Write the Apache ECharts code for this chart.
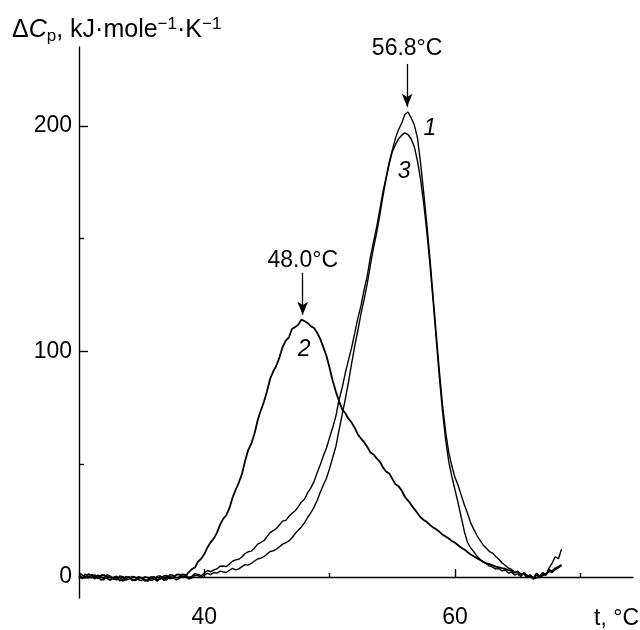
<!DOCTYPE html>
<html>
<head>
<meta charset="utf-8">
<script src="https://cdn.jsdelivr.net/npm/echarts@6/dist/echarts.min.js"></script>
<style>html,body{margin:0;padding:0;background:#fff}#c{width:640px;height:630px}</style>
</head>
<body>
<div id="c"></div>
<script>
// Temperature grid (°C)
const temps = [
  30.00,30.25,30.50,30.75,31.00,31.25,31.50,31.75,32.00,32.25,32.50,32.75,33.00,33.25,33.50,33.75,
  34.00,34.25,34.50,34.75,35.00,35.25,35.50,35.75,36.00,36.25,36.50,36.75,37.00,37.25,37.50,37.75,
  38.00,38.25,38.50,38.75,39.00,39.25,39.50,39.75,40.00,40.25,40.50,40.75,41.00,41.25,41.50,41.75,
  42.00,42.25,42.50,42.75,43.00,43.25,43.50,43.75,44.00,44.25,44.50,44.75,45.00,45.25,45.50,45.75,
  46.00,46.25,46.50,46.75,47.00,47.25,47.50,47.75,48.00,48.25,48.50,48.75,49.00,49.25,49.50,49.75,
  50.00,50.25,50.50,50.75,51.00,51.25,51.50,51.75,52.00,52.25,52.50,52.75,53.00,53.25,53.50,53.75,
  54.00,54.25,54.50,54.75,55.00,55.25,55.50,55.75,56.00,56.25,56.50,56.75,57.00,57.25,57.50,57.75,
  58.00,58.25,58.50,58.75,59.00,59.25,59.50,59.75,60.00,60.25,60.50,60.75,61.00,61.25,61.50,61.75,
  62.00,62.25,62.50,62.75,63.00,63.25,63.50,63.75,64.00,64.25,64.50,64.75,65.00,65.25,65.50,65.75,
  66.00,66.25,66.50,66.75,67.00,67.25,67.50,67.75,68.00,68.25,68.50];

// Curve 1 (peak ~56.8 °C), kJ/(mol·K)
const curve1 = [
  1.0,-0.2,-0.5,1.4,0.6,-0.9,0.9,0.1,-0.8,1.1,0.4,-0.6,-1.3,0.5,0.2,-1.4,
  -0.9,0.3,-0.1,-1.2,-1.6,0.2,-0.3,-1.5,-1.1,0.4,0.5,-0.9,-0.6,1.0,0.8,-0.4,
  0.1,1.3,1.0,-0.2,0.3,1.5,1.2,0.6,1.8,2.9,2.4,3.1,3.6,4.8,4.9,4.6,
  5.8,7.0,7.6,7.9,8.9,10.4,11.2,11.5,12.8,14.6,15.3,16.1,17.9,19.7,20.6,21.5,
  23.2,24.8,25.1,26.9,28.3,29.4,31.2,33.3,34.6,37.4,39.5,42.3,46.2,49.8,53.8,57.3,
  62.0,66.4,71.5,78.6,84.0,90.5,96.2,101.7,108.1,114.8,120.3,127.4,133.5,141.9,148.6,155.2,
  162.9,170.8,177.2,183.9,189.3,194.6,198.4,201.3,205.1,206.2,203.6,200.5,194.8,183.6,170.5,156.4,
  141.2,124.6,108.0,91.3,76.4,64.5,55.3,49.2,44.1,40.6,36.2,31.9,28.3,24.0,21.1,18.4,
  16.2,14.1,12.8,11.3,10.6,9.1,7.9,6.2,5.2,4.0,3.4,2.1,2.6,1.2,1.8,0.4,
  0.9,-0.8,-0.4,0.6,1.2,0.8,4.0,6.2,9.0,8.1,12.3];

// Curve 2 (peak ~48.0 °C)
const curve2 = [
  1.8,0.9,0.2,-0.4,1.1,0.3,-0.6,0.7,0.9,-0.5,-1.4,-0.2,0.3,-1.6,-1.0,0.2,
  -0.2,-1.1,-1.5,-0.3,-0.4,-1.7,-1.2,0.0,0.1,-1.3,-0.8,0.4,0.6,-0.7,-0.3,0.9,
  1.2,0.1,0.4,2.1,3.5,4.2,6.8,8.1,10.2,13.1,15.4,17.0,19.6,23.1,25.8,27.4,
  30.5,35.2,38.7,41.9,45.6,51.4,56.3,59.2,63.5,69.4,73.8,77.6,82.4,87.9,91.2,93.8,
  97.5,102.1,104.8,106.3,110.1,110.8,111.9,114.2,113.4,112.6,111.2,110.4,108.3,105.6,101.8,97.9,
  92.6,86.8,82.1,77.9,74.3,72.6,70.2,68.5,66.1,63.2,61.4,59.8,57.7,55.2,54.3,52.6,
  51.2,48.6,46.8,45.9,43.5,41.1,40.2,38.3,35.6,33.9,32.1,30.2,28.4,26.5,25.3,24.4,
  23.1,22.0,21.2,20.1,18.8,18.0,17.1,16.0,15.2,14.1,13.0,12.2,11.1,10.0,9.2,8.3,
  7.6,6.8,6.1,5.7,5.2,4.6,4.3,3.9,3.6,3.1,2.8,1.9,2.4,1.1,1.5,-0.2,
  0.8,-0.6,1.6,0.3,1.9,1.0,3.2,2.6,3.9,4.5,5.4];

// Curve 3
const curve3 = [
  0.5,-0.8,1.3,0.4,-0.4,1.0,0.2,-1.3,-1.1,0.3,-0.2,-1.0,-0.7,0.0,-1.8,-0.9,
  0.1,-1.6,-1.0,0.2,-0.5,-1.1,-1.9,-0.6,-0.7,-1.8,-0.2,-1.4,-1.2,0.1,-0.1,-1.3,
  -0.6,0.5,0.3,-0.9,-0.4,0.8,0.6,-0.1,0.9,1.6,1.1,2.0,1.7,2.6,2.3,2.0,
  3.0,3.8,3.2,3.6,4.6,5.5,5.3,6.0,7.1,8.0,8.4,9.0,10.2,11.3,11.6,12.4,
  13.5,14.6,15.2,16.0,17.4,19.3,20.8,22.2,24.1,26.5,28.6,30.9,33.9,37.6,40.8,43.9,
  48.3,53.1,58.0,65.2,72.1,79.0,86.4,94.6,102.5,109.3,116.8,123.1,130.2,138.4,146.1,152.7,
  160.4,168.9,176.5,183.2,188.6,191.8,194.3,195.9,196.9,196.2,194.2,190.8,184.6,176.4,165.8,153.1,
  138.7,122.4,105.4,88.6,73.6,61.0,51.2,44.5,38.6,32.8,26.4,20.1,15.3,12.9,11.2,9.3,
  7.8,6.6,5.9,4.8,4.4,3.5,3.8,2.7,3.1,1.8,2.2,0.9,1.4,0.2,2.0,0.8,
  0.3,-0.9,1.1,-0.3,0.6,1.5,2.4,2.0,3.3,4.1,5.0];

// Axis ticks
const xMajorTicks = [40, 60];
const xMinorTicks = [50, 70];
const yMajorTicks = [0, 100, 200];
const yMinorTicks = [50, 150];

// Peak annotations (data coordinates)
const peakTemps = [56.18, 47.85];
const peakTexts = ['56.8°C', '48.0°C'];
const peakTextY = [234.3, 140.2];
const arrowFrom = [227.5, 134.9];
const arrowTo = [208.5, 116.3];

// Curve number labels (data coordinates)
const curveNames = ['1', '2', '3'];
const curveNameT = [58.0, 47.96, 55.94];
const curveNameV = [198.7, 100.8, 179.8];

const FONT = '"Liberation Sans", Arial, Helvetica, sans-serif';
const pts = arr => temps.map((t, i) => [t, arr[i]]);

const chart = echarts.init(document.getElementById('c'), null, {renderer: 'canvas'});
const axisBase = {type: 'value', splitLine: {show: false}};
chart.setOption({
  animation: false,
  backgroundColor: '#fff',
  grid: {left: 79, right: 7, top: 47, bottom: 32, containLabel: false, outerBoundsMode: 'none'},
  xAxis: [
    Object.assign({}, axisBase, {
      min: 30, max: 74.2,
      axisLine: {show: true, lineStyle: {color: '#000', width: 1.4}},
      axisTick: {show: true, inside: true, length: 8, customValues: xMajorTicks, lineStyle: {color: '#000', width: 1.4}},
      axisLabel: {show: true, customValues: xMajorTicks, color: '#000', fontSize: 23, fontFamily: FONT, margin: 8}
    }),
    Object.assign({}, axisBase, {
      min: 30, max: 74.2, position: 'bottom',
      axisLine: {show: false},
      axisTick: {show: true, inside: true, length: 4, customValues: xMinorTicks, lineStyle: {color: '#000', width: 1.4}},
      axisLabel: {show: false}
    })
  ],
  yAxis: [
    Object.assign({}, axisBase, {
      min: -9.3, max: 235,
      axisLine: {show: true, lineStyle: {color: '#000', width: 1.4}},
      axisTick: {show: true, inside: true, length: 9, customValues: yMajorTicks, lineStyle: {color: '#000', width: 1.4}},
      axisLabel: {show: true, customValues: yMajorTicks, color: '#000', fontSize: 23, fontFamily: FONT, margin: 7}
    }),
    Object.assign({}, axisBase, {
      min: -9.3, max: 235, position: 'left',
      axisLine: {show: false},
      axisTick: {show: true, inside: true, length: 5, customValues: yMinorTicks, lineStyle: {color: '#000', width: 1.4}},
      axisLabel: {show: false}
    })
  ],
  graphic: [
    {
      type: 'text', left: 12, top: 16,
      style: {
        text: '{d|Δ}{i|C}{s|p}{d|, kJ·mole}{u|−1}{d|·K}{u|−1}',
        fill: '#000',
        rich: {
          d: {fontSize: 25, fontFamily: FONT, lineHeight: 29, fill: '#000'},
          i: {fontSize: 25, fontFamily: FONT, fontStyle: 'italic', lineHeight: 29, fill: '#000'},
          s: {fontSize: 17, fontFamily: FONT, verticalAlign: 'bottom', lineHeight: 18, fill: '#000'},
          u: {fontSize: 17, fontFamily: FONT, verticalAlign: 'top', lineHeight: 17, fill: '#000'}
        }
      }
    },
    {
      type: 'text', right: 1, top: 607,
      style: {text: 't, °C', fill: '#000', fontSize: 23, fontFamily: FONT}
    }
  ],
  series: [
    {
      name: '1', type: 'line', data: pts(curve1), showSymbol: false, symbol: 'none',
      lineStyle: {color: '#000', width: 1.4}, itemStyle: {color: '#000'},
      markLine: {
        silent: true, symbol: ['none', 'arrow'], symbolSize: [8, 13],
        lineStyle: {color: '#000', width: 1.3, type: 'solid'}, label: {show: false},
        emphasis: {disabled: true},
        data: peakTemps.map((t, i) => [{coord: [t, arrowFrom[i]]}, {coord: [t, arrowTo[i]]}])
      }
    },
    {
      name: '2', type: 'line', data: pts(curve2), showSymbol: false, symbol: 'none',
      lineStyle: {color: '#000', width: 1.8}, itemStyle: {color: '#000'}
    },
    {
      name: '3', type: 'line', data: pts(curve3), showSymbol: false, symbol: 'none',
      lineStyle: {color: '#000', width: 1.4}, itemStyle: {color: '#000'}
    },
    {
      name: 'peaks', type: 'scatter', symbolSize: 0, itemStyle: {color: '#000', opacity: 1}, silent: true,
      data: peakTemps.map((t, i) => [t, peakTextY[i], peakTexts[i]]),
      label: {show: true, position: 'inside', formatter: p => p.data[2], color: '#000', opacity: 1, fontSize: 23, fontFamily: FONT}
    },
    {
      name: 'curve labels', type: 'scatter', symbolSize: 0, itemStyle: {color: '#000', opacity: 1}, silent: true,
      data: curveNames.map((n, i) => [curveNameT[i], curveNameV[i], n]),
      label: {show: true, position: 'inside', formatter: p => p.data[2], color: '#000', opacity: 1, fontSize: 23, fontStyle: 'italic', fontFamily: FONT}
    }
  ]
});
</script>
</body>
</html>
